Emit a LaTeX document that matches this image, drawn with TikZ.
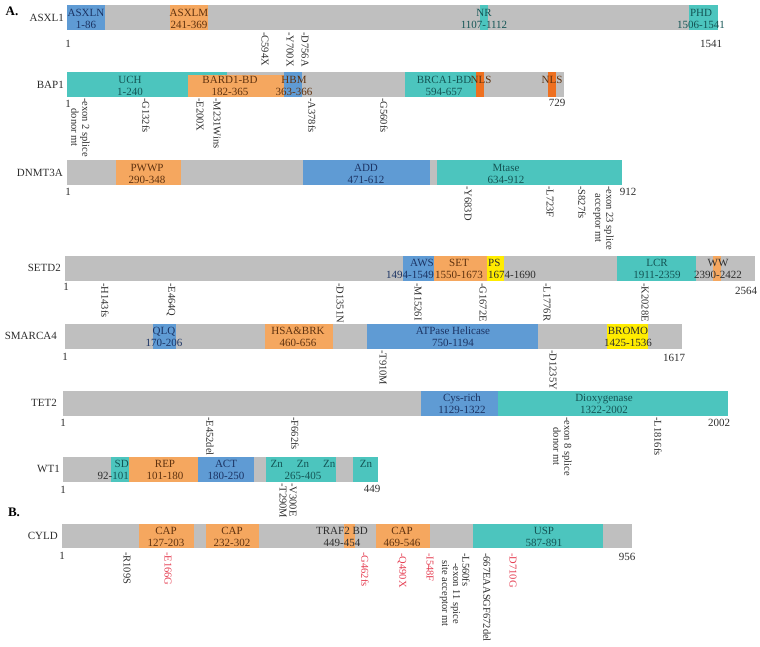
\documentclass[tikz,border=0pt]{standalone}
\usepackage{fontspec}
\setmainfont{Liberation Serif}
\usetikzlibrary{positioning}
\definecolor{bargray}{RGB}{191,191,191}
\definecolor{domblue}{RGB}{95,155,212}
\definecolor{domorange}{RGB}{245,167,95}
\definecolor{domteal}{RGB}{76,197,190}
\definecolor{domyellow}{RGB}{255,236,0}
\definecolor{nlsorange}{RGB}{238,112,32}
\definecolor{mutred}{RGB}{228,60,80}
\definecolor{txtblue}{RGB}{28,52,100}
\definecolor{txtbrown}{RGB}{95,50,15}
\definecolor{txtteal}{RGB}{20,85,85}
\definecolor{txtgray}{RGB}{45,45,45}

\begin{document}
\begin{tikzpicture}[x=1pt, y=-1pt,
  lbl/.style={font=\fontsize{11}{12}\selectfont, align=center, inner sep=0pt},
  gene/.style={lbl, anchor=east, text=txtgray},
  endnum/.style={lbl, text=txtgray},
  mut/.style={font=\fontsize{10.5}{11}\selectfont, rotate=-90, anchor=west,
    inner sep=0pt, align=center, text=txtgray},
  redmut/.style={mut, text=mutred},
  panel/.style={font=\fontsize{13}{13}\selectfont\bfseries, inner sep=0pt}
]
\useasboundingbox (0,0) rectangle (760,647);

\node[panel] (pA) at (12,11) {A.};
\node[panel] (pB) at (14,512) {B.};

% ASXL1
\fill[bargray] (67,5) rectangle (718,30);
\fill[domblue] (67,5) rectangle (105,30);
\fill[domorange] (170,5) rectangle (208,30);
\fill[domteal] (480,5) rectangle (488,30);
\fill[domteal] (689,5) rectangle (718,30);
\node[gene] (asxl1) at (64,18) {ASXL1};
\node[lbl, text=txtblue] (asxln) at (86,18.5) {ASXLN\\1-86};
\node[lbl, text=txtbrown] (asxlm) at (189,18.5) {ASXLM\\241-369};
\node[lbl, text=txtteal] (nr) at (484,18.5) {NR\\1107-1112};
\node[lbl, text=txtteal] (phd) at (701,18.5) {PHD\\1506-1541};
\node[endnum] (asxl1-s) at (68,44) {1};
\node[endnum] (asxl1-e) at (711,44) {1541};
\node[mut] (m-c594x) at (265,32) {-C594X};
\node[mut] (m-y700x) at (290,32) {-Y700X};
\node[mut] (m-d756a) at (305,32) {-D756A};

% BAP1
\fill[bargray] (67,72) rectangle (564,97);
\fill[domteal] (67,72) rectangle (227,97);
\fill[domorange] (188,75) rectangle (285,97);
\fill[domblue] (284,72) rectangle (302,97);
\fill[domteal] (405,72) rectangle (476,97);
\fill[nlsorange] (476,72) rectangle (484,97);
\fill[nlsorange] (548,72) rectangle (556,97);
\node[gene] (bap1) at (64,85) {BAP1};
\node[lbl, text=txtteal] (uch) at (130,85.5) {UCH\\1-240};
\node[lbl, text=txtbrown] (bard1) at (230,85.5) {BARD1-BD\\182-365};
\node[lbl, text=txtbrown] (hbm) at (294,85.5) {HBM\\363-366};
\node[lbl, text=txtteal] (brca1) at (444,85.5) {BRCA1-BD\\594-657};
\node[lbl, text=txtbrown] (nls1) at (481,79.5) {NLS};
\node[lbl, text=txtbrown] (nls2) at (552,79.5) {NLS};
\node[endnum] (bap1-s) at (68,104) {1};
\node[endnum] (bap1-e) at (557,103) {729};
\node[mut] (m-ex2) at (80.5,98) {-exon 2 splice\\donor mt};
\node[mut] (m-g132fs) at (146,98) {-G132fs};
\node[mut] (m-e200x) at (200,98) {-E200X};
\node[mut] (m-m231w) at (217,98) {-M231Wins};
\node[mut] (m-a378fs) at (312,98) {-A378fs};
\node[mut] (m-g560fs) at (384,98) {-G560fs};

% DNMT3A
\fill[bargray] (67,160) rectangle (622,185);
\fill[domorange] (116,160) rectangle (181,185);
\fill[domblue] (303,160) rectangle (430,185);
\fill[domteal] (437,160) rectangle (622,185);
\node[gene] (dnmt3a) at (63,173) {DNMT3A};
\node[lbl, text=txtbrown] (pwwp) at (147,173.5) {PWWP\\290-348};
\node[lbl, text=txtblue] (add) at (366,173.5) {ADD\\471-612};
\node[lbl, text=txtteal] (mtase) at (506,173.5) {Mtase\\634-912};
\node[endnum] (dnmt3a-s) at (68,192) {1};
\node[endnum] (dnmt3a-e) at (628,192) {912};
\node[mut] (m-y683d) at (468,186) {-Y683D};
\node[mut] (m-l723f) at (550,186) {-L723F};
\node[mut] (m-s827fs) at (582,186) {-S827fs};
\node[mut] (m-ex23) at (603.5,186) {-exon 23 splice\\acceptor mt};

% SETD2
\fill[bargray] (65,256) rectangle (755,281);
\fill[domblue] (403,256) rectangle (434,281);
\fill[domorange] (434,256) rectangle (487,281);
\fill[domyellow] (487,256) rectangle (504,281);
\fill[domteal] (617,256) rectangle (696,281);
\fill[domorange] (713,256) rectangle (721,281);
\node[gene] (setd2) at (61,268) {SETD2};
\node[lbl, align=right, anchor=east, text=txtblue] (aws) at (434,269) {AWS\\1494-1549};
\node[lbl, text=txtbrown] (set) at (459,269) {SET\\1550-1673};
\node[lbl, align=left, anchor=west, text=txtgray] (ps) at (488,269) {PS\\1674-1690};
\node[lbl, text=txtteal] (lcr) at (657,269) {LCR\\1911-2359};
\node[lbl, text=txtgray] (ww) at (718,269) {WW\\2390-2422};
\node[endnum] (setd2-s) at (66,287) {1};
\node[endnum] (setd2-e) at (746,291) {2564};
\node[mut] (m-h143fs) at (105,283) {-H143fs};
\node[mut] (m-e464q) at (171,283) {-E464Q};
\node[mut] (m-d1351n) at (340,283) {-D1351N};
\node[mut] (m-m1526i) at (418,283) {-M1526I};
\node[mut] (m-g1672e) at (483,283) {-G1672E};
\node[mut] (m-l1776r) at (547,283) {-L1776R};
\node[mut] (m-k2028e) at (645,283) {-K2028E};

% SMARCA4
\fill[bargray] (65,324) rectangle (682,349);
\fill[domblue] (153,324) rectangle (176,349);
\fill[domorange] (265,324) rectangle (333,349);
\fill[domblue] (367,324) rectangle (538,349);
\fill[domyellow] (607,324) rectangle (648,349);
\node[gene] (smarca4) at (57,336) {SMARCA4};
\node[lbl, text=txtblue] (qlq) at (164,337) {QLQ\\170-206};
\node[lbl, text=txtbrown] (hsa) at (298,337) {HSA\&BRK\\460-656};
\node[lbl, text=txtblue] (atpase) at (453,337) {ATPase Helicase\\750-1194};
\node[lbl, text=txtgray] (bromo) at (628,337) {BROMO\\1425-1536};
\node[endnum] (smarca4-s) at (65,357) {1};
\node[endnum] (smarca4-e) at (674,358) {1617};
\node[mut] (m-t910m) at (383,350) {-T910M};
\node[mut] (m-d1235y) at (553,350) {-D1235Y};

% TET2
\fill[bargray] (63,391) rectangle (728,416);
\fill[domblue] (421,391) rectangle (498,416);
\fill[domteal] (498,391) rectangle (728,416);
\node[gene] (tet2) at (57,403) {TET2};
\node[lbl, text=txtblue] (cys) at (462,404) {Cys-rich\\1129-1322};
\node[lbl, text=txtteal] (dioxy) at (604,404) {Dioxygenase\\1322-2002};
\node[endnum] (tet2-s) at (63,423) {1};
\node[endnum] (tet2-e) at (719,423) {2002};
\node[mut] (m-e452del) at (210,417) {-E452del};
\node[mut] (m-f662fs) at (295,417) {-F662fs};
\node[mut] (m-ex8) at (562.5,417) {-exon 8 splice\\donor mt};
\node[mut] (m-l1816fs) at (658,417) {-L1816fs};

% WT1
\fill[bargray] (63,457) rectangle (378,482);
\fill[domteal] (111,457) rectangle (129,482);
\fill[domorange] (129,457) rectangle (198,482);
\fill[domblue] (198,457) rectangle (254,482);
\fill[domteal] (266,457) rectangle (336,482);
\fill[domteal] (353,457) rectangle (378,482);
\node[gene] (wt1) at (60,469) {WT1};
\node[lbl, align=right, anchor=east, text=txtteal] (sd) at (129,470) {SD\\\textcolor{txtgray}{92-}101};
\node[lbl, text=txtbrown] (rep) at (165,470) {REP\\101-180};
\node[lbl, text=txtblue] (act) at (226,470) {ACT\\180-250};
\node[lbl, text=txtteal] (zn3) at (303,470) {Zn\hspace{14pt}Zn\hspace{14pt}Zn\\265-405};
\node[lbl, text=txtteal] (zn4) at (366,464) {Zn};
\node[endnum] (wt1-s) at (63,490) {1};
\node[endnum] (wt1-e) at (372,489) {449};
\node[mut] (m-t290m) at (283,483) {-T290M};
\node[mut] (m-v300e) at (293,483) {-V300E};

% CYLD
\fill[bargray] (62,524) rectangle (632,548);
\fill[domorange] (139,524) rectangle (194,548);
\fill[domorange] (206,524) rectangle (259,548);
\fill[domorange] (344,524) rectangle (355,548);
\fill[domorange] (376,524) rectangle (430,548);
\fill[domteal] (473,524) rectangle (603,548);
\node[gene] (cyld) at (58,536) {CYLD};
\node[lbl, text=txtbrown] (cap1) at (166,536.5) {CAP\\127-203};
\node[lbl, text=txtbrown] (cap2) at (232,536.5) {CAP\\232-302};
\node[lbl, text=txtgray] (traf2) at (342,537) {TRAF2 BD\\449-454};
\node[lbl, text=txtbrown] (cap3) at (402,536.5) {CAP\\469-546};
\node[lbl, text=txtteal] (usp) at (544,536.5) {USP\\587-891};
\node[endnum] (cyld-s) at (62,556) {1};
\node[endnum] (cyld-e) at (627,557) {956};
\node[mut] (m-r109s) at (127,552) {-R109S};
\node[redmut] (m-e166g) at (168,552) {-E166G};
\node[redmut] (m-g462fs) at (365,552) {-G462fs};
\node[redmut] (m-q490x) at (402,553) {-Q490X};
\node[redmut] (m-i548f) at (430,553) {-I548F};
\node[mut] (m-ex11) at (450,560) {-exon 11 spice\\site acceptor mt};
\node[mut] (m-l560fs) at (466,553) {-L560fs};
\node[mut] (m-667del) at (487,553) {-667EAASGF672del};
\node[redmut] (m-d710g) at (513,553) {-D710G};
\end{tikzpicture}
\end{document}
